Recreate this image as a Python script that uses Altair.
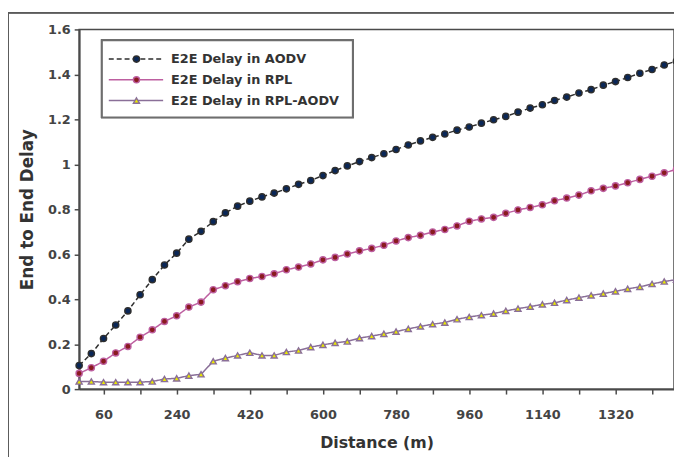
import altair as alt
import pandas as pd

distance = [0, 30, 60, 90, 120, 150, 180, 210, 240, 270,
            300, 330, 360, 390, 420, 450, 480, 510, 540, 570,
            600, 630, 660, 690, 720, 750, 780, 810, 840, 870,
            900, 930, 960, 990, 1020, 1050, 1080, 1110, 1140, 1170,
            1200, 1230, 1260, 1290, 1320, 1350, 1380, 1410, 1440, 1470]

aodv = [0.105, 0.158, 0.225, 0.285, 0.348, 0.420, 0.487, 0.552, 0.605, 0.667,
        0.702, 0.745, 0.784, 0.814, 0.836, 0.855, 0.872, 0.891, 0.911, 0.928,
        0.950, 0.972, 0.993, 1.012, 1.030, 1.047, 1.066, 1.086, 1.104, 1.120,
        1.135, 1.152, 1.166, 1.183, 1.198, 1.213, 1.232, 1.250, 1.265, 1.284,
        1.299, 1.317, 1.332, 1.352, 1.368, 1.386, 1.405, 1.422, 1.442, 1.459]

rpl = [0.070, 0.095, 0.124, 0.161, 0.190, 0.231, 0.264, 0.301, 0.326, 0.365,
       0.387, 0.442, 0.460, 0.478, 0.492, 0.501, 0.513, 0.531, 0.543, 0.557,
       0.575, 0.586, 0.601, 0.615, 0.626, 0.640, 0.659, 0.674, 0.684, 0.699,
       0.710, 0.726, 0.747, 0.757, 0.764, 0.782, 0.797, 0.808, 0.820, 0.838,
       0.850, 0.863, 0.882, 0.893, 0.904, 0.918, 0.933, 0.947, 0.962, 0.977]

rpl_aodv = [0.034, 0.034, 0.031, 0.031, 0.031, 0.031, 0.034, 0.045, 0.048, 0.060,
            0.066, 0.124, 0.138, 0.150, 0.162, 0.150, 0.150, 0.165, 0.172, 0.187,
            0.197, 0.206, 0.212, 0.227, 0.236, 0.246, 0.256, 0.268, 0.279, 0.289,
            0.296, 0.311, 0.321, 0.329, 0.336, 0.348, 0.358, 0.367, 0.377, 0.384,
            0.396, 0.407, 0.417, 0.425, 0.435, 0.446, 0.455, 0.468, 0.479, 0.487]

series_names = ["E2E Delay in AODV", "E2E Delay in RPL", "E2E Delay in RPL-AODV"]
line_colors = ["#2e2e2e", "#bd5fa0", "#8a6f98"]
line_dashes = [[5, 3], [1, 0], [1, 0]]
marker_fill = ["#0a2757", "#8a1a1f", "#e8e800"]
marker_stroke = ["#7ad6ec", "#e79aad", "#ffff3a"]
marker_shape = ["circle", "circle", "triangle-up"]
marker_size = [40, 38, 62]

x_ticks = [60, 150, 240, 330, 420, 510, 600, 690, 780, 870, 960, 1050,
           1140, 1230, 1320, 1410]
y_ticks = [0, 0.2, 0.4, 0.6, 0.8, 1.0, 1.2, 1.4, 1.6]

rows = []
for name, vals in zip(series_names, [aodv, rpl, rpl_aodv]):
    for d, v in zip(distance, vals):
        rows.append({"distance": d, "delay": v, "series": name})
df = pd.DataFrame(rows)

legend_df = pd.DataFrame({"series": series_names, "row": [0, 1, 2]})

FONT = "DejaVu Sans"

stroke_scale = alt.Scale(domain=series_names, range=line_colors)
dash_scale = alt.Scale(domain=series_names, range=line_dashes)
fill_scale = alt.Scale(domain=series_names, range=marker_fill)
mstroke_scale = alt.Scale(domain=series_names, range=marker_stroke)
shape_scale = alt.Scale(domain=series_names, range=marker_shape)
size_scale = alt.Scale(domain=series_names, range=marker_size)

x_enc = alt.X(
    "distance:Q",
    scale=alt.Scale(domain=[0, 1464], nice=False, zero=False),
    axis=alt.Axis(
        values=x_ticks,
        format="d",
        labelExpr="(datum.value - 60) % 180 == 0 ? datum.label : ''",
        title="Distance (m)",
        grid=False,
        labelPadding=15,
        titlePadding=13,
        titleFontSize=16,
    ),
)
y_enc = alt.Y(
    "delay:Q",
    scale=alt.Scale(domain=[0, 1.6], nice=False),
    axis=alt.Axis(
        values=y_ticks,
        format="~g",
        title="End to End Delay",
        grid=False,
        labelPadding=4,
        titlePadding=11,
        titleFontSize=17,
    ),
)

lines = alt.Chart(df).mark_line(strokeWidth=1.5).encode(
    x=x_enc,
    y=y_enc,
    stroke=alt.Stroke("series:N", scale=stroke_scale, legend=None),
    strokeDash=alt.StrokeDash("series:N", scale=dash_scale, legend=None),
    detail="series:N",
)

points = alt.Chart(df).mark_point(filled=True, strokeWidth=1.4, opacity=1).encode(
    x=x_enc,
    y=y_enc,
    fill=alt.Fill("series:N", scale=fill_scale, legend=None),
    stroke=alt.Stroke("series:N", scale=mstroke_scale, legend=None),
    shape=alt.Shape("series:N", scale=shape_scale, legend=None),
    size=alt.Size("series:N", scale=size_scale, legend=None),
)

main = alt.layer(lines, points)

row_y = alt.Y("row:Q", scale=alt.Scale(domain=[0, 2], range=[30, 72]), axis=None)

frame = alt.Chart(legend_df).mark_rect(
    fill=None, stroke="#5a5a5a", strokeWidth=1.5
).encode(
    x=alt.value(-72), x2=alt.value(640), y=alt.value(-17), y2=alt.value(470)
)

leg_box = alt.Chart(legend_df).mark_rect(
    fill="white", stroke="#6e6e6e", strokeWidth=2
).encode(
    x=alt.value(23), x2=alt.value(277), y=alt.value(11), y2=alt.value(89)
)

leg_rules = alt.Chart(legend_df).mark_rule(strokeWidth=1.5).encode(
    x=alt.value(30),
    x2=alt.value(85),
    y=row_y,
    stroke=alt.Stroke("series:N", scale=stroke_scale, legend=None),
    strokeDash=alt.StrokeDash("series:N", scale=dash_scale, legend=None),
)

leg_points = alt.Chart(legend_df).mark_point(filled=True, strokeWidth=1.4, opacity=1).encode(
    x=alt.value(58),
    y=row_y,
    fill=alt.Fill("series:N", scale=fill_scale, legend=None),
    stroke=alt.Stroke("series:N", scale=mstroke_scale, legend=None),
    shape=alt.Shape("series:N", scale=shape_scale, legend=None),
    size=alt.Size("series:N", scale=size_scale, legend=None),
)

leg_text = alt.Chart(legend_df).mark_text(
    align="left", baseline="middle", font=FONT, fontSize=13, fontWeight="bold", color="#333333"
).encode(
    x=alt.value(93),
    y=row_y,
    text="series:N",
)

legend = alt.layer(leg_box, leg_rules, leg_points, leg_text)

chart = alt.layer(frame, main, legend).resolve_scale(
    y="independent", x="independent"
).properties(
    width=602,
    height=364,
    autosize=alt.AutoSizeParams(type="none"),
    padding={"left": 72, "top": 19, "right": 0, "bottom": 66},
    background="white",
).configure_view(
    stroke="#4a4a4a", strokeWidth=1.5
).configure_axis(
    domainColor="#4a4a4a",
    domainWidth=2,
    tickColor="#4a4a4a",
    tickWidth=1.5,
    tickSize=5,
    labelFont=FONT,
    labelFontSize=13,
    labelFontWeight="bold",
    labelColor="#444444",
    titleFont=FONT,
    titleFontWeight="bold",
    titleColor="#333333",
)

chart.save("out.html", embed_options={"renderer": "svg", "actions": False})
